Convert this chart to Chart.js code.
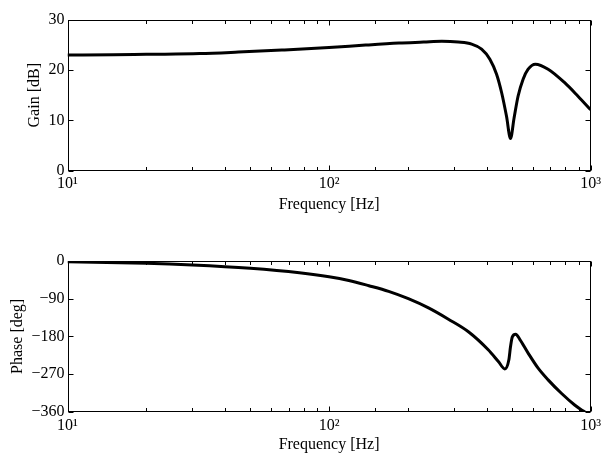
<!DOCTYPE html>
<html lang="en">
<head>
<meta charset="UTF-8">
<title>Bode plot</title>
<script src="https://cdn.jsdelivr.net/npm/chart.js@4"></script>
<style>
    body { margin: 0; background: #fff; }
    .wrap { position: relative; width: 605px; height: 454px; }
    canvas { position: absolute; left: 0; }
    #gainChart { top: 0; }
    #phaseChart { top: 227px; }
</style>
</head>
<body>
<div class="wrap">
    <canvas id="gainChart" width="605" height="227" style="width:605px;height:227px"></canvas>
    <canvas id="phaseChart" width="605" height="227" style="width:605px;height:227px"></canvas>
</div>
<script>
// values
const gainFreq = [10, 15, 20, 32, 45, 66, 100, 138, 185, 230, 270, 312, 351, 383, 412, 437, 457, 477, 494, 510, 528, 552, 577, 615, 688, 796, 895, 1000];
const gainDb   = [23.0, 23.05, 23.15, 23.3, 23.6, 24.0, 24.5, 25.0, 25.4, 25.6, 25.75, 25.6, 25.2, 24.2, 22.2, 19.2, 15.5, 10.8, 6.4, 10.5, 14.8, 18.2, 20.2, 21.2, 20.2, 17.5, 14.8, 12.1];

const phaseFreq = [10, 20, 30, 50, 77, 100, 119, 142, 169, 201, 240, 286, 341, 406, 444, 470, 487, 494, 502, 517, 536, 577, 630, 688, 773, 869, 935, 1000];
const phaseDeg  = [-2, -5.5, -9.6, -17.5, -28, -37.5, -46.5, -59, -72.5, -90, -112, -139, -169, -212, -240, -258, -236, -205, -181, -175, -187, -220, -256, -284, -316, -344, -358, -370];

const gainTicks = [0, 10, 20, 30];
const phaseTicks = [-360, -270, -180, -90, 0];

const FONT = { family: "'Liberation Serif', 'Times New Roman', serif", size: 16 };
const SUP = { 1: '\u00B9', 2: '\u00B2', 3: '\u00B3' };

function isDecade(v) {
    const l = Math.log10(v);
    return Math.abs(l - Math.round(l)) < 1e-9;
}

// MATLAB style box with inward ticks on all four sides
const frame = {
    id: 'frame',
    afterDatasetsDraw(chart) {
        const { ctx, chartArea: a, scales: { x, y } } = chart;
        const L = Math.round(a.left) + 0.5, R = Math.round(a.right) - 0.5;
        const T = Math.round(a.top) + 0.5, B = Math.round(a.bottom) - 0.5;
        ctx.save();
        ctx.strokeStyle = '#000';
        ctx.lineWidth = 1;
        ctx.beginPath();
        x.ticks.forEach(t => {
            const px = Math.round(x.getPixelForValue(t.value)) + 0.5;
            const len = isDecade(t.value) ? 5 : 3.5;
            ctx.moveTo(px, B); ctx.lineTo(px, B - len);
            ctx.moveTo(px, T); ctx.lineTo(px, T + len);
        });
        y.ticks.forEach(t => {
            const py = Math.round(y.getPixelForValue(t.value)) + 0.5;
            ctx.moveTo(L, py); ctx.lineTo(L + 5, py);
            ctx.moveTo(R, py); ctx.lineTo(R - 5, py);
        });
        ctx.stroke();
        ctx.strokeRect(L, T, R - L, B - T);
        ctx.restore();
    }
};

function makeChart(id, freq, vals, yTicks, yTitle, box) {
    const pts = freq.map((f, i) => ({ x: f, y: vals[i] }));
    return new Chart(document.getElementById(id), {
        type: 'line',
        data: {
            datasets: [{
                data: pts,
                borderColor: '#000',
                borderWidth: 3,
                pointRadius: 0,
                cubicInterpolationMode: 'monotone',
                fill: false
            }]
        },
        options: {
            responsive: false,
            animation: false,
            layout: { padding: box.padding },
            plugins: { legend: { display: false }, tooltip: { enabled: false } },
            scales: {
                x: {
                    type: 'logarithmic',
                    min: 10,
                    max: 1000,
                    grid: { display: false, drawTicks: false },
                    border: { display: false },
                    ticks: {
                        color: '#000',
                        font: FONT,
                        padding: 4,
                        autoSkip: false,
                        maxRotation: 0,
                        callback: v => isDecade(v) ? '10' + SUP[Math.round(Math.log10(v))] : ''
                    },
                    title: {
                        display: true,
                        text: 'Frequency [Hz]',
                        color: '#000',
                        font: FONT,
                        padding: box.xTitlePad
                    },
                    afterFit: s => { s.height = box.xHeight; }
                },
                y: {
                    min: yTicks[0],
                    max: yTicks[yTicks.length - 1],
                    grid: { display: false, drawTicks: false },
                    border: { display: false },
                    afterBuildTicks: s => { s.ticks = yTicks.map(v => ({ value: v })); },
                    ticks: {
                        color: '#000',
                        font: FONT,
                        padding: 3,
                        callback: v => String(v).replace('-', '\u2212')
                    },
                    title: {
                        display: true,
                        text: yTitle,
                        color: '#000',
                        font: FONT,
                        padding: { top: 4, bottom: 4 }
                    },
                    afterFit: s => { s.width = box.yWidth; }
                }
            }
        },
        plugins: [frame]
    });
}

makeChart('gainChart', gainFreq, gainDb, gainTicks, 'Gain [dB]', {
    padding: { left: 21, top: 20, right: 12, bottom: 9 },
    xHeight: 47.5, yWidth: 46.5, xTitlePad: { top: 4, bottom: 4 }
});
makeChart('phaseChart', phaseFreq, phaseDeg, phaseTicks, 'Phase [deg]', {
    padding: { left: 4.5, top: 34, right: 12, bottom: 0 },
    xHeight: 42.3, yWidth: 63, xTitlePad: { top: 4, bottom: 0 }
});
</script>
</body>
</html>
